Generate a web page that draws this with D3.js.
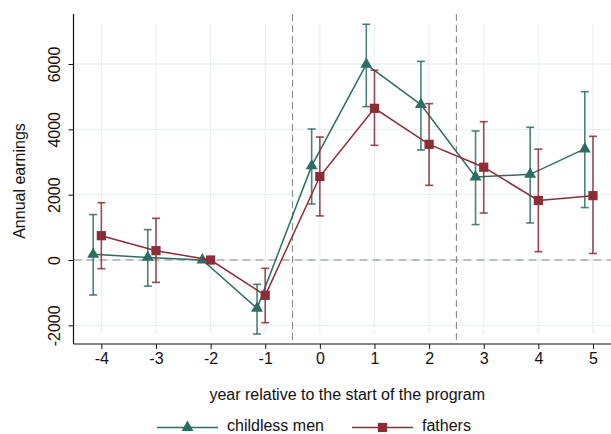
<!DOCTYPE html>
<html>
<head>
<meta charset="utf-8">
<script src="https://cdn.jsdelivr.net/npm/d3@7"></script>
<style>
  body { margin: 0; background: #fff; }
  svg { display: block; }
  text { font-family: "Liberation Sans", Arial, sans-serif; fill: #111; }
</style>
</head>
<body>
<svg id="chart" width="611" height="434"></svg>
<script>
// ---- data ----
const years = [-4, -3, -2, -1, 0, 1, 2, 3, 4, 5];
const childlessEst = [175, 80, 0, -1480, 2880, 5990, 4755, 2540, 2623, 3400];
const childlessLo  = [-1070, -800, null, -2265, 1714, 4695, 3367, 1085, 1135, 1605];
const childlessHi  = [1390, 930, null, -745, 4010, 7215, 6080, 3950, 4062, 5152];
const fathersEst   = [744, 286, 0, -1081, 2555, 4643, 3541, 2840, 1822, 1970];
const fathersLo    = [-265, -684, null, -1918, 1350, 3510, 2286, 1439, 255, 200];
const fathersHi    = [1754, 1276, null, -255, 3765, 5808, 4786, 4234, 3393, 3786];
const yTicks = [-2000, 0, 2000, 4000, 6000];
const xTicks = [-4, -3, -2, -1, 0, 1, 2, 3, 4, 5];
const vLines = [-0.5, 2.5];
const seriesNames = ["childless men", "fathers"];
const colors = ["#2c6e63", "#8c2c36"];
const offsets = [-0.15, 0];

(function () {
const svg = d3.select("#chart");
const pL = 73.5, pR = 611, pT = 14, pB = 344;
const FS = "16px";
const x = d3.scaleLinear().domain([-4.51, 5.33]).range([pL, pR]);
const y = d3.scaleLinear().domain([-2571, 7530]).range([pB, pT]);
const fmt = d => String(d);

// grid
svg.append("g").selectAll("line").data(xTicks).join("line")
  .attr("x1", d => x(d)).attr("x2", d => x(d))
  .attr("y1", 24).attr("y2", 334)
  .attr("stroke", "#eaf1f3").attr("stroke-width", 1.3);
svg.append("g").selectAll("line").data(yTicks).join("line")
  .attr("x1", pL).attr("x2", pR)
  .attr("y1", d => y(d)).attr("y2", d => y(d))
  .attr("stroke", "#eaf1f3").attr("stroke-width", 1.3);

// reference lines
svg.append("line").attr("x1", pL).attr("x2", pR)
  .attr("y1", y(0)).attr("y2", y(0))
  .attr("stroke", "#8a8a8a").attr("stroke-width", 1.2).attr("stroke-dasharray", "8,5");
svg.append("g").selectAll("line").data(vLines).join("line")
  .attr("x1", d => x(d)).attr("x2", d => x(d))
  .attr("y1", pT).attr("y2", pB)
  .attr("stroke", "#8a8a8a").attr("stroke-width", 1.1).attr("stroke-dasharray", "7,4");

// axes
const yAxis = d3.axisLeft(y).tickValues(yTicks).tickSize(5).tickFormat(fmt);
const gy = svg.append("g").attr("transform", `translate(${pL},0)`).call(yAxis);
gy.select(".domain").attr("d", `M0,${pT}V${pB}`).attr("stroke", "#111").attr("stroke-width", 1.2);
gy.selectAll(".tick line").attr("stroke", "#111");
gy.selectAll(".tick text")
  .attr("transform", "rotate(-90)")
  .attr("x", 0).attr("y", -14).attr("dy", 0)
  .attr("text-anchor", "middle")
  .style("font-size", FS).style("font-family", '"Liberation Sans", Arial, sans-serif').attr("fill", "#111");

const xAxis = d3.axisBottom(x).tickValues(xTicks).tickSize(5).tickFormat(fmt);
const gx = svg.append("g").attr("transform", `translate(0,${pB})`).call(xAxis);
gx.select(".domain").attr("d", `M${pL},0H${pR}`).attr("stroke", "#111").attr("stroke-width", 1.2);
gx.selectAll(".tick line").attr("stroke", "#111");
gx.selectAll(".tick text").attr("y", 9).attr("dy", "0.71em")
  .style("font-size", FS).style("font-family", '"Liberation Sans", Arial, sans-serif').attr("fill", "#111");

// titles
svg.append("text").attr("transform", `translate(25,${(pT + pB) / 2 + 2}) rotate(-90)`)
  .attr("text-anchor", "middle").style("font-size", FS).text("Annual earnings");
svg.append("text").attr("x", (pL + pR) / 2 + 5).attr("y", 400)
  .attr("text-anchor", "middle").style("font-size", FS).text("year relative to the start of the program");

// series
const series = [
  { est: childlessEst, lo: childlessLo, hi: childlessHi },
  { est: fathersEst, lo: fathersLo, hi: fathersHi }
];
const tri = d3.symbol().type(d3.symbolTriangle).size(62);
const sq = d3.symbol().type(d3.symbolSquare).size(85);

series.forEach((s, i) => {
  const c = colors[i];
  const pts = years.map((yr, k) => ({ xv: yr + offsets[i], est: s.est[k], lo: s.lo[k], hi: s.hi[k] }));
  const g = svg.append("g");
  const eb = pts.filter(p => p.lo !== null);
  g.selectAll(".v").data(eb).join("line")
    .attr("x1", p => x(p.xv)).attr("x2", p => x(p.xv))
    .attr("y1", p => y(p.lo)).attr("y2", p => y(p.hi))
    .attr("stroke", c).attr("stroke-width", 1.6).attr("opacity", 0.85);
  ["lo", "hi"].forEach(key => {
    g.selectAll(".c" + key).data(eb).join("line")
      .attr("x1", p => x(p.xv) - 4).attr("x2", p => x(p.xv) + 4)
      .attr("y1", p => y(p[key])).attr("y2", p => y(p[key]))
      .attr("stroke", c).attr("stroke-width", 1.6).attr("opacity", 0.85);
  });
  g.append("path").datum(pts)
    .attr("d", d3.line().x(p => x(p.xv)).y(p => y(p.est)))
    .attr("fill", "none").attr("stroke", c).attr("stroke-width", 1.5);
  g.selectAll(".m").data(pts).join("path")
    .attr("transform", p => `translate(${x(p.xv)},${y(p.est)})`)
    .attr("d", i === 0 ? tri : sq)
    .attr("fill", c);
});

// legend
const legendItems = [
  { name: seriesNames[0], color: colors[0], x0: 157, sym: tri },
  { name: seriesNames[1], color: colors[1], x0: 352, sym: sq }
];
const ly = 427.5;
legendItems.forEach(it => {
  svg.append("line").attr("x1", it.x0).attr("x2", it.x0 + 61)
    .attr("y1", ly).attr("y2", ly).attr("stroke", it.color).attr("stroke-width", 1.5);
  svg.append("path").attr("transform", `translate(${it.x0 + 30.5},${ly})`)
    .attr("d", it.sym).attr("fill", it.color);
  svg.append("text").attr("x", it.x0 + 70).attr("y", 430.5)
    .style("font-size", FS).text(it.name);
});
})();
</script>
</body>
</html>
